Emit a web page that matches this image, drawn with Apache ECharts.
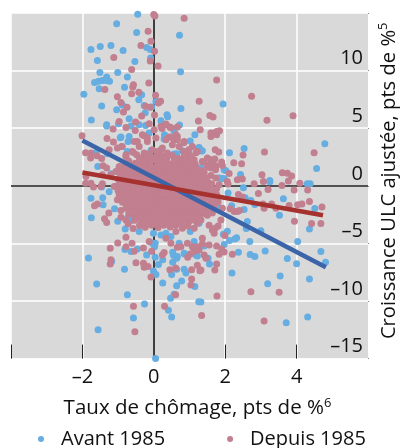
<!DOCTYPE html>
<html><head><meta charset="utf-8"><style>html,body{margin:0;padding:0;background:#fff}#c{width:401px;height:448px}</style>
<script src="https://cdn.jsdelivr.net/npm/echarts@6/dist/echarts.min.js"></script></head><body><div id="c"></div>
<script>
const xTickLabels=[-2,0,2,4];
const yTickLabels=[10,5,0,-5,-10,-15];
const seriesNames=['Avant 1985','Depuis 1985'];
const avantLine=[[-2,3.94],[4.82,-7.07]];
const depuisLine=[[-2,1.16],[4.74,-2.55]];
const avant1985=[[-0.45,14.9],[-1.04,14.06],[-0.48,13.3],[0.72,13.07],[-1.76,11.83],[-1.5,12.09],[-1.2,12.17],[-0.86,11.74],[-0.2,12],[-0.1,11.83],[-0.09,11.1],[-1.58,10.87],[-0.53,10.78],[-1.51,9.83],[-1.01,9.83],[-0.74,9.45],[0.75,9.89],[-1.32,9.45],[-1.66,8.96],[-1.55,9.07],[-1.44,9.13],[-1.34,9.13],[-1.24,9.07],[-1.53,8.43],[-0.82,8.55],[-1.96,7.94],[-0.34,7.91],[-0.42,7.48],[-1.46,6.93],[-1.04,6.61],[-0.88,7.02],[-0.27,6.96],[-0.24,6.35],[-0.06,6.84],[0.06,7.33],[0.76,6.72],[-1.75,5.71],[-1.32,5.3],[-1.32,5.2],[-0.69,5.83],[-0.99,5.39],[-0.64,5.19],[0.37,6.17],[0.39,6],[0.2,5.65],[-0.23,5.24],[0.72,5.28],[-0.13,4.58],[-0.94,4.17],[-0.69,4.29],[0.3,4.43],[0.3,4.1],[1.15,4.43],[1.02,3.88],[0.57,4.72],[-0.72,3.85],[-0.08,3.07],[1.27,3.33],[-1.62,2.9],[-1.3,2.78],[-0.74,2.98],[0.8,3.04],[0.57,2.76],[-1.57,1.68],[1.28,1.54],[-1.2,1.04],[-0.83,0.96],
[1.94,7.1],[2.53,3.24],[2.12,2.87],[1.36,3.04],[4.79,3.65],[4.56,1.5],[2.02,1.3],[2.43,0.98],[1.88,0.63],[1.97,0.63],[3.25,0.46],[1.32,1.54],[1.97,1.39],[1.83,0.67],
[3.25,0.35],[2.51,-0.17],[4.3,0.17],[4.38,0.17],[2.08,-0.63],[2.56,-1.04],[2.72,-1.28],[2.83,-1.63],[3.63,-1.13],[4.51,-1.97],[2.18,-1.74],[2.53,-2.06],[3.52,-2.55],[2.62,-3.1],[3,-3.91],[2.59,-3.71],[4.36,-3.74],[2.06,-3.94],[1.95,-4.2],[2.32,-4.52],[2.27,-4.61],[2.12,-4.75],[2.69,-4.84],[1.97,-5.1],[4.03,-4.84],[2.37,-5.77],[3.12,-5.65],[2.7,-5.97],[2.83,-6.14],[3.74,-6.32],[4.68,-5.71],[4.81,-6.64],[4,-6.76],[2.19,-7.57],[3.54,-7.83],[4.36,-8.09],[3.19,-8.5],[4.31,-11.39],[3.71,-11.89],[1.56,-6.78],[1.52,-6.29],[1.32,-10.09],[1.83,-1.94],[1.27,-3.25],[1.02,-3.97],[1.13,-4.84],[1.41,-5.22],[1.18,-6],
[-1.76,-1.07],[-1.43,-1.04],[-1.42,-1.65],[-1.46,-0.11],[-1.25,-0.52],[-1.1,-2],[-1.75,-2.78],[-1.01,-3.07],[-0.8,-3.74],[-1.83,-6.26],[-1.18,-6.55],[-0.82,-7.24],[-1.6,-8.52],[-0.74,-9.45],[-0.26,-10.26],[-0.57,-11.48],[-1.56,-12.5],[0.05,-15],[-0.81,-5.54],[-0.64,-5.71],[-0.46,-5.48],[-0.2,-6],[0.04,-6.2],[0.04,-4.98],[0.02,-5.28],[0.25,-6.43],[0.13,-6.84],[0.53,-5.77],[0.55,-6.03],[0.64,-6.29],[0.53,-6.63],[-0.01,-7.39],[0.06,-7.71],[0.5,-7.71],[0.64,-7.24],[0.85,-7.24],[0.9,-7.57],[0.25,-8.43],[0.78,-8.26],[0.64,-8.67],[1.15,-8.75],[0.47,-9.77],[0.57,-9.42],[1.26,-10.06],[0.41,-10.81],[0.5,-11.39],[0.86,-5.91],[1.22,-6.09],[0.2,-4.26],[0.48,-4.41],[0.71,-4.98],[-0.74,-2.81],[-0.55,-2.9],[-0.41,-3.97],[-0.64,-3.02],[-0.18,-3.25],[-0.01,-4.11],[-0.04,-4.98],[0.34,-4.11],[0.85,-5.85],[0.66,-6.14],[-0.92,4.23],[-0.88,3.42],[-0.41,5.3],[0.29,4.06],[1.25,3.28],[1.34,3.02],[0.64,2.78],[0.54,2.7]];
const depuis1985=[[0,14.87],[0.03,14.75],[0.85,14.55],[-0.16,13.42],[-0.08,12.55],[-0.36,12.17],[0.02,11.68],[-1.12,11.13],[-0.1,10.84],[0.12,10.41],[-0.62,10.09],[-0.14,8.93],[-0.57,8.78],[-0.59,8.58],[-1.37,8.35],[-0.62,8],[-0.42,8.11],[-1.02,7.74],[0.05,7.85],[-0.92,7.24],[-0.75,6.81],[-0.85,6.41],[-0.23,6.9],[-0.1,6.81],[0.13,7.19],[0.19,7.33],[1.27,7.33],[-0.34,6.06],[0.02,6.15],[1.25,5.62],[-0.97,5.59],[-0.51,5.54],[-1.14,4.93],[-0.78,5.07],[-0.52,4.81],[-0.13,5.39],[0.01,4.87],[0.23,4.98],[0.34,5.36],[0.45,5.1],[0.66,5.1],[1.3,4.87],[-2.01,4.35],[-1.31,4.11],[-1.13,3.8],[-0.55,3.85],[-0.27,4.35],[0.06,4.15],[0.43,4.23],[0.66,4.29],[0.57,4],[0.85,3.85],[-0.9,3.42],[-1.02,3.28],[-1.25,3.13],[-1.91,2.87],[-1.76,2.84],[-1.77,2.41],[-1.59,2.61],[-1.46,2.37],[-1.42,1.74],[-1.32,1.54],[-0.78,2.55],[-0.57,2.9],[-0.41,3.42],[-0.18,3.85],[0.2,3.13],[0.1,2.84],[0.38,2.84],[0.71,3.42],[1.08,3.42],[1.22,2.98],[0.99,2.7],[1.13,2.26],[0.8,2.26],[1.04,1.54],[1.11,1.54],[1.27,0.96],[-1.9,0.81],[-1.44,0.96],[-1.2,0.96],[-0.97,1.54],
[0.2,5.16],[0.34,5.3],[0.48,5.04],[0.62,4.43],[0.52,4.17],[0.34,4],[0.66,4],[0.84,3.74],[0.98,3.13],[1.04,2.55],[1.18,2.87],[0.84,2.98],[0.52,3.57],[0.24,3.28],[0.1,2.98],[-0.78,2.7],[-0.6,2.98],[-0.46,3.85],[-0.32,4.43],[-0.18,4.15],[-0.04,3.13],[-0.27,2.84],[-0.97,1.68],[-1.06,1.24],[-1.06,-0.06],[-0.97,-0.78],[-1.02,-1.22],[-0.64,-1.94],[-0.69,-2.37],
[1.76,9.19],[2.74,7.77],[3.17,5.68],[3.9,6.09],[1.57,6.11],[1.66,5.97],[1.6,4.58],[1.6,4.29],[1.69,4.58],[1.76,4.43],[1.84,4.78],[1.76,4.72],[1.72,3.13],[1.82,2.93],[2.5,2.67],[3.1,2.93],[4.49,2.87],[1.5,2.41],[1.6,2.26],[1.71,2.32],[1.64,1.97],[1.55,1.83],[1.74,1.74],[1.9,2.06],[1.92,1.77],[1.39,2.06],[1.5,1.63],[1.6,1.54],[1.73,1.39],[2.24,2],[2.46,1.91],[2.11,1.07],[1.41,1.16],[1.6,0.9],[1.74,0.67],[1.32,0.81],[3.03,0.96],[3.6,1.13],[3.74,1.1],[3.86,0.84],[2.34,0.52],[2.48,0.58],[1.36,2.11],[1.41,0.37],[1.83,0.09],[2.06,0.37],
[2.08,0.15],[2.81,0.17],[3.07,0.37],[3.59,0.03],[3.77,0.41],[4.09,0.23],[3.93,-0.37],[4.31,-0.37],[3.2,-0.32],[2.37,-0.76],[2.93,-0.67],[2.48,-0.98],[4.36,-1.37],[4.03,-1.65],[4.15,-1.59],[3.79,-1.71],[4.71,-1.85],[3.3,-1.57],[3.06,-1.59],[3.09,-1.94],[3.42,-1.94],[2.14,-2],[2.25,-2.23],[2.34,-2.23],[2.4,-2.15],[1.92,-1.94],[3.94,-3.07],[4.42,-3.28],[4.68,-3.28],[1.88,-2.96],[1.55,-3.42],[1.8,-3.48],[1.72,-3.68],[1.64,-3.83],[1.69,-4.11],[1.99,-4.32],[1.36,-4.55],[1.36,-5.05],[1.55,-5.13],[1.76,-5.22],[1.9,-5.48],[1.97,-5.74],[1.83,-5.94],[2.2,-5.94],[1.41,-6],[1.46,-6.29],[1.76,-6.78],[1.71,-7.3],[1.32,-7.3],[2.72,-9.19],[3.51,-9.25],[1.77,-9.57],[1.34,-11.25],[3.09,-11.74],
[-1.91,0.23],[-1.76,0.23],[-1.69,-0.11],[-1.44,0.17],[-1.48,-0.06],[-1.11,-0.06],[-1.58,-1.57],[-1.66,-1.74],[-1.26,-2.37],[-1.38,-2.87],[-1.32,-3.19],[-0.92,-2.15],[-0.92,-2.72],[-0.78,-2.96],[-1.01,-4.96],[-1.22,-5.42],[-0.78,-4.46],[-0.78,-5.28],[-0.61,-4.98],[-0.55,-5.68],[-0.29,-5.39],[-0.06,-5.68],[-1.2,-6.43],[-1.22,-6.78],[-0.5,-6.67],[-0.29,-6.72],[-0.27,-7.07],[-0.16,-7.01],[-0.08,-7.91],[-0.57,-10.46],[-0.53,-12.67],[0.3,-10.46],[0.45,-7.28],[0.61,-7.13],[1.06,-7.28],[1.06,-8.09],[1.04,-8.61],[0.61,-9.45],[0.29,-5.8],[0.24,-6],[0.95,-6.2],[1.02,-5.91],[1.22,-6.9],[1.29,-7.37],[-0.13,-4.84],[0.48,-4.98],[0.66,-5.33],[0.76,-5.28],[0.94,-4.98],[1.08,-5.28],[1.27,-5.57],[1.13,-5.71],[0.34,-4.55],[0.62,-3.97],[0.8,-3.68],[1.13,-3.68],[1.22,-3.25],[1.32,-2.96],[1.46,-2.09],[1.64,-2.37],[1.22,-5.28],
[-0.48,2.7],[-0.3,2.5],[-0.14,2.75],[0.03,2.45],[0.22,2.6],[0.36,2.35],[0.52,2.62],[0.68,2.4],[0.85,2.55],[1.02,2.3],
[-0.7,2.15],[-0.52,1.95],[-0.36,2.2],[-0.2,2],[-0.03,2.25],[0.12,1.95],[0.3,2.15],[0.47,1.9],[0.63,2.1],[0.8,1.85],[0.96,2.05],[1.16,1.9],
[-0.85,1.65],[-0.68,1.45],[-0.5,1.7],[-0.33,1.5],[-0.16,1.72],[0,1.45],[0.17,1.65],[0.34,1.42],[0.5,1.68],[0.68,1.45],[0.84,1.62],[1,1.4],[1.18,1.55],[1.28,1.3],
[-0.94,1.1],[-0.78,0.92],[-0.6,1.15],[-0.43,0.95],[-0.26,1.18],[-0.08,0.9],[0.08,1.1],[0.26,0.92],[0.42,1.15],[0.6,0.95],[0.76,1.15],[0.93,0.88],[1.1,1.08],[1.26,0.85],[1.38,1.05],
[-1,0.6],[-0.84,0.42],[-0.67,0.65],[-0.5,0.45],[-0.33,0.66],[-0.16,0.42],[0,0.62],[0.17,0.4],[0.35,0.64],[0.52,0.42],[0.68,0.62],[0.86,0.38],[1.02,0.6],[1.2,0.4],[1.34,0.58],[1.5,0.38],
[-0.98,0.1],[-0.82,-0.08],[-0.64,0.15],[-0.47,-0.05],[-0.3,0.18],[-0.12,-0.1],[0.04,0.12],[0.22,-0.06],[0.38,0.16],[0.56,-0.08],[0.72,0.1],[0.9,-0.1],[1.06,0.12],[1.24,-0.07],[1.4,0.1],[1.58,-0.05],
[-1,-0.42],[-0.86,-0.6],[-0.68,-0.38],[-0.52,-0.58],[-0.34,-0.35],[-0.18,-0.6],[0,-0.4],[0.16,-0.62],[0.34,-0.37],[0.5,-0.6],[0.68,-0.4],[0.84,-0.62],[1.02,-0.38],[1.18,-0.58],[1.36,-0.4],[1.52,-0.6],[1.68,-0.42],
[-0.94,-0.95],[-0.76,-1.12],[-0.6,-0.9],[-0.42,-1.1],[-0.26,-0.88],[-0.08,-1.12],[0.08,-0.9],[0.26,-1.12],[0.42,-0.92],[0.6,-1.1],[0.76,-0.88],[0.94,-1.12],[1.1,-0.9],[1.28,-1.1],[1.44,-0.92],[1.62,-1.1],[1.78,-0.95],
[-0.88,-1.42],[-0.7,-1.6],[-0.54,-1.38],[-0.36,-1.62],[-0.2,-1.4],[-0.02,-1.6],[0.14,-1.38],[0.32,-1.62],[0.48,-1.4],[0.66,-1.6],[0.82,-1.38],[1,-1.62],[1.16,-1.4],[1.34,-1.6],[1.5,-1.42],[1.68,-1.58],[1.8,-1.4],
[-0.78,-1.95],[-0.62,-2.1],[-0.46,-1.9],[-0.28,-2.12],[-0.12,-1.88],[0.06,-2.12],[0.22,-1.92],[0.4,-2.1],[0.56,-1.9],[0.74,-2.12],[0.9,-1.92],[1.08,-2.1],[1.24,-1.9],[1.4,-2.12],[1.58,-1.92],[1.7,-2],
[-0.7,-2.45],[-0.54,-2.62],[-0.36,-2.4],[-0.2,-2.6],[-0.02,-2.42],[0.14,-2.62],[0.32,-2.4],[0.48,-2.6],[0.66,-2.42],[0.82,-2.62],[1,-2.4],[1.16,-2.6],[1.34,-2.42],[1.5,-2.55],
[-0.54,-2.98],[-0.34,-3.12],[-0.2,-2.92],[-0.04,-3.1],[0.12,-2.95],[0.3,-3.15],[0.46,-2.92],[0.64,-3.12],[0.8,-2.95],[0.98,-3.1],[1.14,-2.98],
[-0.4,-3.45],[-0.24,-3.6],[-0.06,-3.42],[0.12,-3.62],[0.28,-3.42],[0.46,-3.58],[0.62,-3.4],[0.96,-3.5],[-0.58,-3.7],[-0.72,-3.3],
[-0.4,2.3],[-0.22,2.38],[-0.08,2.5],[0.12,2.28],[0.3,2.4],[0.58,2.25],[0.76,2.2],[0.92,2.25],
[-0.6,1.68],[-0.42,1.72],[-0.26,1.78],[-0.08,1.68],[0.08,1.72],[0.26,1.82],[0.42,1.72],[0.6,1.72],[0.76,1.78],[0.92,1.75],[1.1,1.72],
[-0.86,1.25],[-0.7,1.2],[-0.52,1.28],[-0.34,1.22],[-0.18,1.3],[0,1.18],[0.18,1.3],[0.34,1.18],[0.5,1.3],[0.68,1.22],[0.85,1.28],[1.02,1.18],[1.18,1.22],[1.32,1.28],
[-0.92,0.76],[-0.76,0.7],[-0.58,0.78],[-0.42,0.72],[-0.24,0.8],[-0.08,0.68],[0.08,0.82],[0.26,0.7],[0.44,0.78],[0.6,0.7],[0.78,0.8],[0.94,0.66],[1.12,0.76],[1.28,0.68],[1.44,0.72],
[-0.9,0.28],[-0.74,0.2],[-0.56,0.32],[-0.4,0.22],[-0.22,0.3],[-0.06,0.18],[0.12,0.3],[0.28,0.2],[0.46,0.32],[0.62,0.2],[0.8,0.28],[0.96,0.18],[1.14,0.26],[1.3,0.2],[1.48,0.24],[1.62,0.18],
[-0.92,-0.26],[-0.76,-0.3],[-0.58,-0.22],[-0.42,-0.3],[-0.26,-0.2],[-0.08,-0.32],[0.08,-0.2],[0.26,-0.33],[0.42,-0.2],[0.6,-0.3],[0.76,-0.22],[0.94,-0.34],[1.1,-0.22],[1.28,-0.32],[1.44,-0.22],[1.6,-0.3],[1.76,-0.25],
[-0.9,-0.8],[-0.72,-0.78],[-0.58,-0.72],[-0.44,-0.8],[-0.26,-0.72],[-0.08,-0.82],[0.08,-0.72],[0.24,-0.84],[0.42,-0.72],[0.58,-0.82],[0.76,-0.72],[0.92,-0.84],[1.1,-0.72],[1.26,-0.82],[1.44,-0.74],[1.6,-0.84],[1.76,-0.76],
[-0.84,-1.25],[-0.68,-1.3],[-0.5,-1.22],[-0.34,-1.32],[-0.16,-1.22],[0,-1.34],[0.18,-1.2],[0.34,-1.34],[0.52,-1.2],[0.68,-1.32],[0.86,-1.22],[1.02,-1.34],[1.2,-1.22],[1.36,-1.32],[1.54,-1.24],[1.72,-1.26],
[-0.76,-1.76],[-0.6,-1.8],[-0.44,-1.72],[-0.26,-1.8],[-0.1,-1.72],[0.08,-1.82],[0.24,-1.72],[0.42,-1.82],[0.58,-1.72],[0.76,-1.82],[0.92,-1.72],[1.1,-1.82],[1.26,-1.72],[1.42,-1.82],[1.6,-1.72],
[-0.66,-2.25],[-0.5,-2.3],[-0.32,-2.22],[-0.16,-2.32],[0.02,-2.22],[0.18,-2.32],[0.36,-2.22],[0.52,-2.32],[0.7,-2.22],[0.86,-2.32],[1.04,-2.22],[1.2,-2.32],[1.38,-2.24],[1.54,-2.32],
[-0.46,-2.78],[-0.28,-2.8],[-0.12,-2.72],[0.06,-2.8],[0.22,-2.72],[0.4,-2.82],[0.56,-2.72],[0.74,-2.82],[0.9,-2.72],[1.08,-2.82],[1.24,-2.74],
[-0.3,-3.3],[-0.12,-3.28],[0.04,-3.28],[0.22,-3.32],[0.38,-3.26],[0.54,-3.3],[0.72,-3.24],[0.88,-3.28]];
const blue='#66ADE1',pink='#C17F8F';
const fam='"Open Sans",sans-serif';
const chart=echarts.init(document.getElementById('c'));
chart.setOption({
  animation:false,
  textStyle:{fontFamily:fam},
  grid:{left:11,top:13,width:357,height:345.6,show:true,backgroundColor:'#D9D9D9',borderWidth:0,outerBoundsMode:'none'},
  legend:{left:33,top:424,itemWidth:6,itemHeight:6,itemGap:62,icon:'circle',data:seriesNames,selectedMode:false,
    textStyle:{fontFamily:fam,fontSize:20,color:'#111',padding:[0,0,0,12]}},
  xAxis:{type:'value',min:-4,max:6,interval:2,
    axisLine:{show:false,onZero:false},
    axisTick:{show:true,inside:true,length:14,customValues:[-4,-2,0,2,4],lineStyle:{color:'#222',width:1}},
    splitLine:{show:true,lineStyle:{color:'#fff',width:1.5}},
    axisLabel:{margin:9,fontSize:20,color:'#111',fontFamily:fam,
      formatter:v=>xTickLabels.includes(v)?String(v).replace('-','–'):''},
    name:'{t|Taux de chômage, pts de %}{s|6}',nameLocation:'middle',nameGap:38,
    nameTextStyle:{padding:[0,0,0,16],rich:{t:{fontFamily:fam,fontSize:20.5,color:'#111',lineHeight:24},s:{fontFamily:fam,fontSize:13,color:'#111',lineHeight:14,verticalAlign:'top'}}}},
  yAxis:{type:'value',min:-15,max:15,interval:5,position:'right',
    axisLine:{show:false,onZero:false},
    axisTick:{show:true,length:1,lineStyle:{color:'#888',width:1}},
    splitLine:{show:true,lineStyle:{color:'#fff',width:1.5}},
    axisLabel:{inside:true,margin:5,fontSize:20,lineHeight:24,color:'#111',fontFamily:fam,verticalAlign:'bottom',
      formatter:v=>yTickLabels.includes(v)?String(v).replace('-','–'):''},
    name:'{t|Croissance ULC ajustée, pts de %}{s|5}',nameLocation:'middle',nameGap:8,nameRotate:90,
    nameTextStyle:{padding:[0,0,0,10],rich:{t:{fontFamily:fam,fontSize:20.2,color:'#111',lineHeight:24},s:{fontFamily:fam,fontSize:13,color:'#111',lineHeight:14,verticalAlign:'top'}}}},
  series:[
    {name:seriesNames[0],type:'scatter',data:avant1985,symbolSize:7,z:3,itemStyle:{color:blue,opacity:1},
      markLine:{silent:true,symbol:'none',z:1,label:{show:false},animation:false,
        data:[{xAxis:0,lineStyle:{color:'#3f3f3f',width:2,type:'solid'}},{yAxis:0,lineStyle:{color:'#1a1a1a',width:1.5,type:'solid'}}]}},
    {name:seriesNames[1],type:'scatter',data:depuis1985,symbolSize:7,z:4,itemStyle:{color:pink,opacity:1}},
    {name:'reg-avant',type:'line',data:avantLine,showSymbol:false,z:5,lineStyle:{color:'#3C64A8',width:4.5},itemStyle:{color:'#3C64A8'}},
    {name:'reg-depuis',type:'line',data:depuisLine,showSymbol:false,z:6,lineStyle:{color:'#A5322E',width:4.5},itemStyle:{color:'#A5322E'}}
  ]
});
</script></body></html>
